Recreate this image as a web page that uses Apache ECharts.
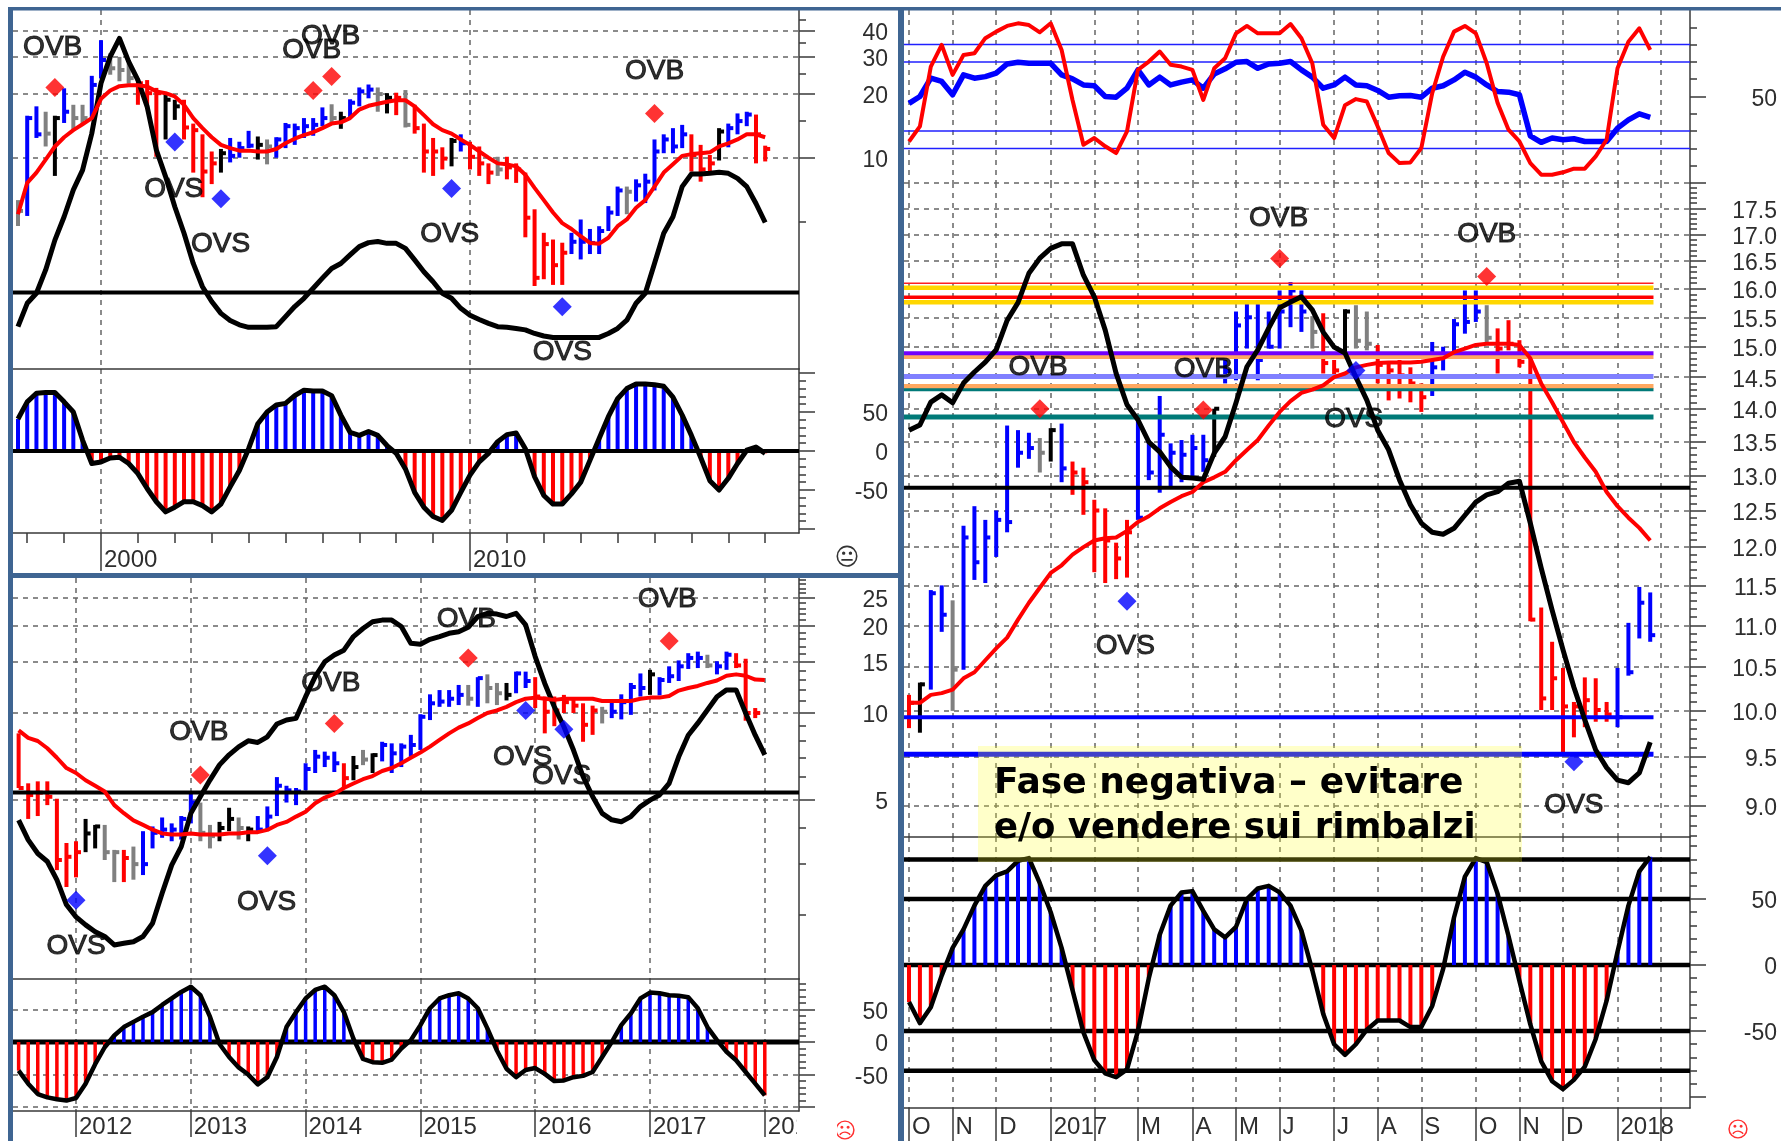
<!DOCTYPE html>
<html><head><meta charset="utf-8">
<style>html,body{margin:0;padding:0;background:#fff}#c{width:1781px;height:1141px}</style>
<script src="https://cdn.jsdelivr.net/npm/echarts@6/dist/echarts.min.js"></script>
</head><body><div id="c"></div>
<script>
// ---------- TOP LEFT: quarterly bars from 1997.75 ----------
const tlHigh=[6.3,15.8,17.5,16.5,15.8,21.3,17.8,17.8,24.4,36,31.2,30,28,23.7,23.3,21.4,19.9,18.8,18.8,14.5,12.9,10.7,11,12.4,11.9,13.4,12.6,12.2,12.5,14.6,14.5,15.4,15.4,17.3,17.9,16.5,18.9,21.5,22.2,21.5,20.2,20.3,20.9,17.8,14.5,12.4,11.2,12.4,12.9,11.9,11.3,9.4,10.1,10.1,9.4,8.5,5.7,4.41,4.1,3.96,4.41,5.1,4.6,4.74,5.9,7.3,7.3,7.9,8.4,12.2,12.9,13.8,14.3,12.9,11.5,10.3,13.8,14.5,16.2,16.5,16,11.4];
const tlLow=[4.75,5.3,12.4,11.3,8.2,14.6,13.4,14.4,15.4,23.7,24.7,23,22.4,17.8,17.5,10.1,12.2,15.1,12.2,8.5,6.5,7.5,8.5,9.5,10,11.1,9.8,9.3,10,11.1,11.5,12.4,12.7,14.1,14.6,13.7,15.4,17.5,19.1,16.5,16.2,15.9,13.9,13,8.5,8.2,8.8,9.1,10.7,8.8,8.2,7.5,8.2,7.9,7.6,4.2,2.47,2.66,2.5,2.5,3.5,3.3,3.5,3.5,4.5,5.3,5.4,6.2,6.1,7,10.5,10.5,11.1,8.6,7.7,8.6,9.7,11.2,12.9,14.1,9.4,9.6];
const tlClose=[5.6,15.4,12.9,13,15.4,16.5,15.4,15.4,22.1,29,26.5,26,23.8,22.5,20.2,20.2,18.8,17.5,13.9,13.5,8.6,9.4,10.5,10.2,11.1,11.4,11.5,11.3,12.2,14.1,13.8,14.1,14.3,15.4,15.4,15.4,18.2,20.6,21,20,19.2,19.2,14.3,13.8,10.7,10.7,9.9,12,11.7,10.1,9.4,8.5,8.8,9,8.8,5.2,2.7,3.9,3.1,3.55,4,4,3.95,4.5,5.5,7,6.9,7.4,7.7,10.7,12.2,11.3,12.9,10.3,8.8,9.4,13.3,13.8,14.9,16,12.9,11];
const tlColor="gbbgkbggbbgggrrrkkrrrrkbbbkgbbbbbbgkbbbgkrgrrrrkbrrrgrrrrrrrbbbbbbgbbbbbbrrrkbbbrr".split('');
const tlMA=[5.4,7.6,8.5,9.8,11.3,12.5,13.5,14.4,15.4,19,20.8,21.8,22,22,21.7,20.6,20.2,19.5,17.8,15.4,13.8,12.5,11.5,11.1,10.8,10.8,10.7,10.7,11,11.7,12.3,12.8,13.2,13.8,14.5,14.7,15.4,16.9,17.6,18,18.4,18.7,18.7,17.5,15.9,14.4,13.5,13,12.2,11.5,10.7,10,9.4,9.3,9.1,8.3,7.2,6.3,5.5,4.9,4.6,4.25,3.95,3.92,4.18,4.74,5.1,5.8,6.3,7.3,8.5,9.3,10.2,10.4,10.5,10.6,11.3,11.7,12.2,12.9,12.9,12.5];
const tlOsc=[11.8,18.3,21.1,27.6,35.9,42.4,49.9,55.4,65.6,79.6,87,92.1,85.6,80.5,73.1,61,53.6,45.2,37.8,29.4,22.9,18.8,15.5,13.5,12.3,11.6,11.6,11.6,11.8,14.6,17.4,19.7,22.5,25.3,28,29.4,31.8,34.1,35.2,35.5,35,35,33.6,30.4,27.1,24.3,21.1,19.7,16.9,15,13.8,12.7,11.8,11.6,11.3,10.9,9.9,9.2,8.8,8.8,8.8,8.8,8.8,8.8,9.9,11.3,13.6,18.3,21.1,29.4,37.8,42.4,50.8,54.3,54.3,54.5,54.8,54.5,53.1,50.8,46.1,40.8];
const tlOscLevel=21.3;
const tlHist=[41,63,74,75,75,63,50,14,-16,-14,-9,-8,-16,-29,-48,-65,-78,-72,-65,-65,-70,-78,-68,-46,-25,3,35,50,59,61,71,78,77,77,71,46,24,20,25,20,7,-3,-23,-53,-72,-84,-89,-76,-53,-31,-14,-3,12,21,23,3,-33,-57,-68,-68,-55,-40,-12,16,44,67,80,86,86,85,83,69,46,20,-8,-38,-50,-35,-16,1,5,-3];
const tlBuyX=[1998.75,2005.75,2006.25,2015];
const tlBuyY=[21.5,20.8,24.2,16.2];
const tlSellX=[2002,2003.25,2009.5,2012.5];
const tlSellY=[11.85,6.4,7.15,1.97];
const tlTextX=[1998.69,2005.71,2006.22,2015,2001.97,2003.24,2009.45,2012.5];
const tlTextY=[34.1,33.1,38.3,26.3,7.27,4,4.46,1.22];
const tlTextT=['OVB','OVB','OVB','OVB','OVS','OVS','OVS','OVS'];
const tlYearsMinor=[1998,1999,2001,2002,2003,2004,2005,2006,2007,2008,2009,2011,2012,2013,2014,2015,2016,2017,2018];
const tlYearsMajor=[2000,2010];
const tlPriceMajor=[40,30,20,10];
const tlPriceMinor=[45,35,25,15,5];
const tlPriceLabels=[40,30,20,10];

// ---------- BOTTOM LEFT: monthly bars from 2011.5 ----------
const blHigh=[8.5,5.71,5.8,5.8,5.05,3.55,3.6,4.3,4.1,4.1,3.36,3.36,3.45,3.9,4.05,4.35,4.15,4.4,5.25,4.9,4.1,4.2,4.7,4.35,4.05,4.4,4.75,6,5.6,5.5,6.7,7.45,7.35,7.35,6.7,7.1,7.45,7.25,7.95,7.85,7.85,8.4,9.9,11.6,12,12,12.5,12.5,13.3,13.6,12.7,12.7,13.9,13.9,13.3,11.4,11.4,11.55,11.25,10.8,10.6,10.5,10.9,11.6,12.7,13.7,14.1,13.3,14.5,15.2,16.1,16.3,15.9,15.1,16.3,16.1,15.4,10.4,11.6];
const blLow=[5.5,4.3,4.4,4.8,2.86,2.5,2.7,3.3,3.4,3.1,2.6,2.6,2.65,2.75,3.4,3.7,3.6,3.65,4.15,3.6,3.4,3.6,3.9,3.65,3.6,3.9,3.95,4.4,4.9,4.8,5.4,6.2,6.5,6.25,5.5,5.85,6.6,6.2,6.8,6.2,6.5,7.05,7.45,9.45,10.5,10.5,10.65,10.6,10.5,10.8,10.65,11.05,11.7,12.2,10.4,8.5,9,10,10,7.95,8.4,9.2,9.6,9.5,9.85,11.4,11.55,11.5,12.7,12.9,14.2,14.3,14.3,13.6,14.1,14.3,9.4,9.6,9.85];
const blClose=[5.5,5.2,5.3,5.13,3.1,3.18,3.3,3.83,4.05,3.3,3.3,3.15,3,3,3.85,3.95,3.95,4.3,4.9,3.85,3.75,4,4.3,4,3.95,3.95,4.38,5.6,5.4,5.35,6.4,7.06,7,6.7,5.95,6.5,6.9,7.15,7.75,7.25,7.65,7.75,9.7,10.8,10.95,11.2,11.55,11.2,13.2,12.2,11.7,11.55,13.7,12.9,11.4,10.1,10.2,10.9,10.6,9.1,10.2,10.1,10.1,10.9,12.3,12.2,13.6,13,13.4,14.5,15.5,15.5,14.6,14.5,15.9,14.6,10,10,10.8];
const blColor="rrrrrrrkkggrgbbbbbbggkkgkbbbbbbbbbrkgkbbbbbbbbbgbggkbbrrrrrrrgbbbbkbbbbbgbbrrr".split('');
const blMA=[8.7,8.2,8,7.55,7,6.45,6.2,5.85,5.6,5.35,4.8,4.5,4.25,4.1,3.95,3.83,3.8,3.8,3.83,3.8,3.8,3.8,3.83,3.83,3.87,3.87,3.94,4.1,4.2,4.38,4.55,4.87,5.1,5.25,5.5,5.7,5.9,6.05,6.3,6.45,6.7,7,7.3,7.65,8.07,8.5,8.9,9.2,9.6,10,10.2,10.5,10.9,11.2,11.3,11.2,11.1,11.2,11.2,11.2,11.2,11,11,11,11,11.2,11.3,11.3,11.45,11.95,12.2,12.4,12.7,12.95,13.45,13.6,13.45,13.05,13];
const blOsc=[39.6,34.7,31.3,29.3,24.7,18.5,15.5,13.5,11.8,10.6,8.5,8.9,9.3,10.6,13.9,21.4,28.4,33,41.3,45.5,49.6,53.4,55.9,57.9,59.4,59,60.4,63.6,64.6,65,70.4,75.4,79.1,80.8,82,85.4,87.4,89.1,89.5,89.5,87.9,83.7,83.5,84.7,85.4,86.2,86.6,87.7,90.4,91.2,91,90.4,91.2,88.3,80.4,73.7,67.9,62.9,57.1,50.5,45.5,41.3,39.7,39.2,40.5,43,44.6,45.9,48.8,55.4,60.8,63.8,67.1,70.4,72.1,72.1,66.3,60.8,55.9];
const blOscLevel=46.5;
const blHist=[-44,-64,-80,-85,-88,-90,-86,-64,-34,-8,10,23,31,39,46,57,67,77,85,72,39,-3,-23,-39,-50,-65,-54,-23,23,46,67,80,85,72,46,5,-26,-31,-32,-27,-10,3,26,52,67,72,75,67,52,21,-13,-41,-54,-43,-40,-49,-60,-59,-54,-52,-46,-23,0,26,44,67,76,75,72,71,69,52,23,3,-15,-28,-46,-64,-82];
const blBuyX=[2013.083,2014.25,2015.417,2017.167];
const blBuyY=[6.1,9.2,15.5,17.75];
const blSellX=[2012,2013.667,2015.917,2016.25];
const blSellY=[2.25,3.21,10.2,8.78];
const blTextX=[2012,2013.07,2013.66,2014.22,2015.4,2015.89,2016.23,2017.15];
const blTextY=[1.59,8.69,2.25,12.9,21.5,7.15,6.15,25.1];
const blTextT=['OVS','OVB','OVS','OVB','OVB','OVS','OVS','OVB'];
const blYears=[2012,2013,2014,2015,2016,2017,2018];
const blPriceMajor=[25,20,15,10,5];
const blPriceMinor=[29,28,27,26,24,23,22,21,19,18,17,16,14,13,12,11,9,8,7,6,4,3,2];
const blPriceLabels=[25,20,15,10,5];

// ---------- RIGHT: weekly bars, index 0 = first bar of October ----------
const rHigh=[10.18,10.32,11.44,11.5,11.31,12.29,12.56,12.37,12.5,13.74,13.67,13.63,13.55,13.7,13.77,13.2,13.11,12.65,12.53,12.06,12.37,13.82,13.52,14.2,13.47,13.52,13.6,13.6,14,14.78,15.6,15.75,15.73,15.6,15.97,16.12,15.97,15.52,15.57,14.78,15.64,15.71,15.6,15.03,14.75,14.78,14.66,14.4,15.08,15,15.47,15.97,15.97,15.71,15.31,15.45,15.11,14.9,11.22,10.8,10.49,10.1,10.38,10.37,10.1,10.49,11.03,11.48,11.41];
const rLow=[9.81,9.76,10.24,10.92,10,10.47,11.57,11.53,11.87,12.2,13.11,13.24,13.04,13.2,12.9,12.72,12.44,11.67,11.53,11.58,11.6,12.37,12.93,12.75,12.83,12.9,12.97,13.05,13.27,14.4,14.45,14.97,14.45,14.97,14.97,15.33,15.25,14.97,14.56,14.5,14.92,14.97,14.94,14.4,14.13,14.16,14.1,13.95,14.2,14.61,14.9,15.22,15.42,15.08,14.56,14.94,14.66,11.05,10.01,10.01,9.53,9.71,9.82,9.88,9.88,9.82,10.4,10.84,10.8];
const rClose=[10.09,10.3,11.4,11.13,10.47,12.13,11.8,12.13,12.37,12.34,13.33,13.4,13.33,13.67,13.1,13.04,12.9,12.5,12.09,11.85,12.2,12.4,13.04,13.6,13.33,13.3,13.4,13.22,14,14.6,15.36,15.5,14.78,15,15.6,15.97,15.6,15.25,14.73,14.61,15.6,15.1,15.05,14.7,14.61,14.53,14.4,14.18,14.66,14.86,15.38,15.42,15.6,15.15,14.97,15.05,14.75,11.07,10.14,10.37,10.05,10.05,10.12,10.01,9.96,9.93,10.44,11.28,10.88];
const rColor="rkbbgbbbbbbbgkbrrrrrrbbbbbbbkbbbbbbbbgrrkggrrrrrbbbbbgrrrrrrrrrrrbbbb".slice(0,69).split('');
const rMA=[10.09,10.09,10.18,10.2,10.24,10.37,10.44,10.58,10.72,10.85,11.07,11.28,11.47,11.66,11.76,11.9,12,12.09,12.12,12.13,12.22,12.34,12.42,12.53,12.62,12.7,12.76,12.9,12.97,13.05,13.22,13.37,13.52,13.74,13.95,14.12,14.25,14.3,14.37,14.5,14.56,14.66,14.7,14.73,14.74,14.74,14.74,14.75,14.78,14.81,14.91,14.97,15.03,15.05,15.05,15.05,15.03,14.81,14.4,14.1,13.79,13.49,13.26,13.05,12.76,12.56,12.4,12.26,12.09];
const rOsc=[62.2,63,66.5,67.6,66.4,69.4,71.1,72.6,74.5,79,81.7,86.2,88.5,90,90.7,90.7,85.9,82.6,77.5,70.9,66.1,63.8,60.4,58.9,56.6,55,54.9,54.7,58.7,61.2,66.4,71.9,74.5,77.8,80.9,81.8,82.6,80.6,77.2,74.9,74,70.3,66.8,62.2,59.2,54.6,50.8,48,46.6,46.3,47.2,49.2,51.2,52.3,52.8,54.1,54.4,48,41.1,34.7,28.6,22.9,17.9,13.3,10.6,8.7,8.3,9.8,14.5];
const rOscLevel=53.4;
const rHist=[-28,-44,-32,-8,13,27,45,60,68,71,79,81,62,40,13,-19,-51,-72,-82,-85,-79,-50,-10,23,45,55,56,41,27,21,29,50,58,60,55,45,26,-4,-37,-60,-68,-60,-49,-42,-42,-42,-47,-47,-31,-3,36,67,81,78,54,22,-12,-45,-73,-88,-94,-87,-77,-56,-27,10,45,71,82];
const rsiBlue=[46,50,60.6,58.7,51,62.5,60.6,61.5,63.5,68.8,69.8,69.2,69.2,69.2,62.5,60.2,56.7,56.2,50,49.6,54.8,65.4,56.7,61.2,56.7,58.3,59.6,54.8,63,66,69.8,70.2,66.3,68.8,69.2,70.2,65.4,61.2,54.8,56.7,61.2,56.7,56.2,53.5,49.6,50.4,50.6,49.6,54.8,56.2,59.6,64,61.2,56.7,52.9,52.5,51,27.3,23.5,26,25,25.6,24,24,24,31.7,36.5,40,38];
const rsiRed=[24,32.7,67.3,79.8,62.5,74,75,83.7,87.5,90.8,92.3,91.3,87.1,92.3,76.9,48,22.1,26,21.2,17.3,29.8,65.4,70.2,76,68.3,67.3,65.4,48,66.3,72.1,86.5,90.8,86.5,86.5,86.5,91.9,83.7,69.2,33.7,26,45,48.5,47.1,32.7,17.3,11.5,11.9,20.2,51.9,73,87.5,90.8,86.5,69.2,46.2,30.8,24,11.5,4.8,4.8,6.2,8.3,8.3,15.4,25,66.3,81.7,89.4,76.9];
const rsiLevels=[80,70,30,20];
const rBuyX=[12,27,34,53];
const rBuyY=[14,13.98,16.55,16.22];
const rSellX=[20,41,61];
const rSellY=[11.3,14.61,9.45];
const rTextX=[11.85,27,33.9,53,40.8,19.85,61];
const rTextY=[14.69,14.66,17.35,17.03,13.87,10.77,9.02];
const rTextT=['OVB','OVB','OVB','OVB','OVS','OVS','OVS'];
const rMonthX=[0,4,8,13,17,21,26,30,34,39,43,47,52,56,60,65,69];
const rMonthT=['O','N','D','2017','','M','A','M','J','J','A','S','O','N','D','2018',''];
const rPriceLabels=[17.5,17,16.5,16,15.5,15,14.5,14,13.5,13,12.5,12,11.5,11,10.5,10,9.5,9];
const rPriceMajor=[18,17.5,17,16.5,16,15.5,15,14.5,14,13.5,13,12.5,12,11.5,11,10.5,10,9.5,9];
const rPriceMinor=[17.9,17.8,17.7,17.6,17.4,17.3,17.2,17.1,16.9,16.8,16.7,16.6,16.4,16.3,16.2,16.1,15.9,15.8,15.7,15.6,15.4,15.3,15.2,15.1,14.9,14.8,14.7,14.6,14.4,14.3,14.2,14.1,13.9,13.8,13.7,13.6,13.4,13.3,13.2,13.1,12.9,12.8,12.7,12.6,12.4,12.3,12.2,12.1,11.9,11.8,11.7,11.6,11.4,11.3,11.2,11.1,10.9,10.8,10.7,10.6,10.4,10.3,10.2,10.1,9.9,9.8,9.7,9.6,9.4,9.3,9.2,9.1,8.9,8.8,8.7];
// horizontal support/resistance levels: value, colour, width
const rLevelVal=[16.02,16.1,15.76,15.85,14.83,14.89,14.51,14.35,14.3,13.87,9.93,9.53];
const rLevelCol=['#ffd700','#ff2020','#ffd700','#ff0000','#ffa860','#7000ff','#8080ff','#ffa860','#007a78','#007a78','#0000ff','#0000ff'];
const rLevelW=[4.5,1.5,4.5,3.5,4,4,5,5,3,5,4,5];

const histTicksMinor=[100,90,80,70,60,40,30,20,10,-10,-20,-30,-40,-60,-70,-80,-90,-100];
const histTicksMajor=[100,50,0,-50,-100];
const histLabels=[50,0,-50];

// ---------- builders ----------
const lg=Math.log10;
const COL={b:'#0000ff',r:'#ff0000',k:'#000000',g:'#808080'};
const DARK='#3a3a3a', DASH='#666', TXT='#2e2e2e';
const opt={animation:false,backgroundColor:'#ffffff',grid:[],xAxis:[],yAxis:[],series:[],graphic:{elements:[]}};
function addGrid(l,t,w,h){opt.grid.push({left:l,top:t,width:w,height:h,show:false});return opt.grid.length-1;}
function addX(g,min,max,o){
  opt.xAxis.push({type:'value',gridIndex:g,min,max,position:'bottom',
    axisLine:{show:!!o.line,onZero:false,lineStyle:{color:DARK,width:1.5}},
    axisTick:{show:!!o.tickLen,length:o.tickLen||1,customValues:o.ticks,lineStyle:{color:DARK,width:1.5}},
    minorTick:{show:false},
    axisLabel:o.labels?{show:true,customValues:o.labels,formatter:o.fmt,margin:o.margin,align:'left',padding:[0,0,0,3],
      color:TXT,fontFamily:'Liberation Sans',fontSize:24,hideOverlap:false,showMinLabel:true,showMaxLabel:true}:{show:false},
    splitLine:{show:!!o.split,lineStyle:{color:DASH,width:1.5,type:[5,5]}}});
  return opt.xAxis.length-1;
}
function addY(g,min,max,o){
  opt.yAxis.push({type:'value',gridIndex:g,min,max,position:'right',show:o.show!==false,
    axisLine:{show:!!o.line,onZero:false,lineStyle:{color:DARK,width:1.5}},
    axisTick:{show:!!o.ticks,length:o.tickLen||1,customValues:o.ticks||[0],lineStyle:{color:DARK,width:1.5}},
    minorTick:{show:false},
    axisLabel:o.labels?{show:true,customValues:o.labels,formatter:o.fmt,margin:o.margin,align:'right',verticalAlign:'top',lineHeight:6,
      color:TXT,fontFamily:'Liberation Sans',fontSize:23,hideOverlap:false,showMinLabel:true,showMaxLabel:true}:{show:false},
    splitLine:{show:!!o.split,lineStyle:{color:o.splitColor||DASH,width:1.5,type:[5,5]}}});
  return opt.yAxis.length-1;
}
function bars(xi,yi,xs,hi,lo,cl,cols,lw,tick){
  opt.series.push({type:'custom',coordinateSystem:'cartesian2d',xAxisIndex:xi,yAxisIndex:yi,z:3,clip:true,
    encode:{x:0,y:[1,2,3]},
    data:xs.map((x,i)=>[x,lg(hi[i]),lg(lo[i]),lg(cl[i])]),
    renderItem(p,api){
      const x=api.value(0),a=api.coord([x,api.value(1)]),b=api.coord([x,api.value(2)]),c=api.coord([x,api.value(3)]);
      const st={stroke:COL[cols[p.dataIndex]],lineWidth:lw,fill:null};
      return {type:'group',children:[
        {type:'line',shape:{x1:a[0],y1:a[1],x2:b[0],y2:b[1]},style:st},
        {type:'line',shape:{x1:c[0],y1:c[1],x2:c[0]+tick,y2:c[1]},style:st}]};
    }});
}
function line(xi,yi,data,color,width,z){
  opt.series.push({type:'line',xAxisIndex:xi,yAxisIndex:yi,data,symbol:'none',z,silent:true,clip:true,
    lineStyle:{color,width,join:'round',cap:'butt'},itemStyle:{color}});
}
function hist(xi,yi,xs,vals,w,z){
  opt.series.push({type:'bar',xAxisIndex:xi,yAxisIndex:yi,barWidth:w,z,silent:true,barMinHeight:0,
    data:xs.map((x,i)=>({value:[x,vals[i]],itemStyle:{color:vals[i]>=0?'#0000ff':'#ff0000'}}))});
}
function marks(xi,yi,xs,ys,color){
  opt.series.push({type:'scatter',xAxisIndex:xi,yAxisIndex:yi,symbol:'diamond',symbolSize:19,z:8,silent:true,
    itemStyle:{color},data:xs.map((x,i)=>[x,lg(ys[i])])});
}
function texts(xi,yi,xs,ys,ts){
  opt.series.push({type:'scatter',xAxisIndex:xi,yAxisIndex:yi,symbolSize:1,z:9,silent:true,clip:false,
    itemStyle:{color:'rgba(0,0,0,0)'},
    label:{show:true,position:'inside',align:'center',verticalAlign:'middle',offset:[0,2],
      formatter:p=>ts[p.dataIndex],color:'#000',fontFamily:'Liberation Sans',fontSize:28,
      textBorderColor:'#000',textBorderWidth:1},
    data:xs.map((x,i)=>[x,lg(ys[i])])});
}
const xy=(xs,ys)=>xs.map((x,i)=>[x,ys[i]]);
const xyLog=(xs,ys)=>xs.map((x,i)=>[x,lg(ys[i])]);

// ---------- TOP LEFT ----------
(function(){
  const x0=1997.615,x1=2018.916;
  const xs=tlHigh.map((_,i)=>1997.75+i*0.25);
  const gP=addGrid(13,10,786,359), gH=addGrid(13,369,786,164);
  const xP=addX(gP,x0,x1,{ticks:tlYearsMajor,split:true,line:true});
  const yMaj=addY(gP,0,lg(50),{ticks:tlPriceMajor.map(lg),tickLen:16,line:true,split:true,labels:tlPriceLabels.map(lg),
    fmt:v=>String(Math.round(Math.pow(10,v))),margin:89});
  addY(gP,0,lg(50),{ticks:tlPriceMinor.map(lg),tickLen:7});
  const yOsc=addY(gP,0,100,{show:false});
  const xH=addX(gH,x0,x1,{ticks:tlYearsMajor,tickLen:38,split:true,line:true,labels:tlYearsMajor,fmt:v=>String(Math.round(v)),margin:15});
  const xH2=addX(gH,x0,x1,{ticks:tlYearsMinor,tickLen:10});
  const yH=addY(gH,-105.1,105.1,{ticks:histTicksMajor,tickLen:16,line:true,labels:histLabels,fmt:v=>String(Math.round(v)),margin:89});
  addY(gH,-105.1,105.1,{ticks:histTicksMinor,tickLen:7});
  bars(xP,yMaj,xs,tlHigh,tlLow,tlClose,tlColor,4,5);
  line(xP,yOsc,[[x0,tlOscLevel],[x1,tlOscLevel]],'#000',4,4);
  line(xP,yOsc,xy(xs,tlOsc),'#000',5,5);
  line(xP,yMaj,xyLog(xs,tlMA),'#ff0000',4,6);
  marks(xP,yMaj,tlBuyX,tlBuyY,'#ff0000');
  marks(xP,yMaj,tlSellX,tlSellY,'#0000ff');
  texts(xP,yMaj,tlTextX,tlTextY,tlTextT);
  hist(xH,yH,xs,tlHist,4,3);
  line(xH,yH,[[x0,0],[x1,0]],'#000',4,4);
  line(xH,yH,xy(xs,tlHist),'#000',5,5);
})();

// ---------- BOTTOM LEFT ----------
(function(){
  const x0=2011.451,x1=2018.298;
  const xs=blHigh.map((_,i)=>2011.5+i/12);
  const gP=addGrid(13,578,786,401), gH=addGrid(13,979,786,132);
  const xP=addX(gP,x0,x1,{ticks:blYears,split:true,line:true});
  const a=lg(1.2016),b=lg(29.3);
  const yMaj=addY(gP,a,b,{ticks:blPriceMajor.map(lg),tickLen:16,line:true,split:true,labels:blPriceLabels.map(lg),
    fmt:v=>String(Math.round(Math.pow(10,v))),margin:89});
  addY(gP,a,b,{ticks:blPriceMinor.map(lg),tickLen:7});
  const yOsc=addY(gP,0,100,{show:false});
  const xH=addX(gH,x0,x1,{ticks:blYears,tickLen:26,split:true,line:true,labels:blYears,fmt:v=>String(Math.round(v)),margin:4});
  const yH=addY(gH,-106,96.9,{ticks:histTicksMajor.filter(v=>v<100),tickLen:16,line:true,split:true,labels:histLabels,
    fmt:v=>String(Math.round(v)),margin:89});
  addY(gH,-106,96.9,{ticks:histTicksMinor.filter(v=>v<100),tickLen:7});
  bars(xP,yMaj,xs,blHigh,blLow,blClose,blColor,4,5);
  line(xP,yOsc,[[x0,blOscLevel],[x1,blOscLevel]],'#000',4,4);
  line(xP,yOsc,xy(xs,blOsc),'#000',5,5);
  line(xP,yMaj,xyLog(xs,blMA),'#ff0000',4,6);
  marks(xP,yMaj,blBuyX,blBuyY,'#ff0000');
  marks(xP,yMaj,blSellX,blSellY,'#0000ff');
  texts(xP,yMaj,blTextX,blTextY,blTextT);
  line(xH,yH,[[x0,0],[x1,0]],'#000',5,2);
  hist(xH,yH,xs,blHist,3.5,3);
  line(xH,yH,xy(xs,blHist),'#000',4.5,5);
})();

// ---------- RIGHT ----------
(function(){
  const x0=-0.46,x1=71.65,xEnd=68.3;
  const xs=rHigh.map((_,i)=>i);
  const gR=addGrid(904,10,786,173), gP=addGrid(904,183,786,654), gH=addGrid(904,837,786,271);
  const xR=addX(gR,x0,x1,{ticks:rMonthX,split:true});
  const yR=addY(gR,0,100,{ticks:[50,0],tickLen:16,line:true,labels:[50],fmt:v=>String(Math.round(v)),margin:87});
  addY(gR,0,100,{ticks:[90,80,70,60,40,30,20,10],tickLen:7});
  const xP=addX(gP,x0,x1,{ticks:rMonthX,split:true,line:true});
  const a=lg(8.69),b=lg(18);
  const yMaj=addY(gP,a,b,{ticks:rPriceMajor.map(lg),tickLen:16,line:true,split:true,labels:rPriceLabels.map(lg),
    fmt:v=>Math.pow(10,v).toFixed(1),margin:87});
  addY(gP,a,b,{ticks:rPriceMinor.map(lg),tickLen:7});
  const yOsc=addY(gP,0,100,{show:false});
  const xH=addX(gH,x0,x1,{ticks:rMonthX,tickLen:33,split:true,line:true,labels:rMonthX,
    fmt:v=>rMonthT[rMonthX.indexOf(Math.round(v))],margin:7});
  const yH=addY(gH,-108.3,97,{ticks:[50,0,-50,-100],tickLen:16,line:true,labels:histLabels,fmt:v=>String(Math.round(v)),margin:87});
  addY(gH,-108.3,97,{ticks:histTicksMinor.filter(v=>v<100),tickLen:7});
  rsiLevels.forEach(v=>line(xR,yR,[[x0,v],[x1,v]],'#2020ff',1.5,2));
  line(xR,yR,xy(xs,rsiBlue),'#0000ff',5.5,4);
  line(xR,yR,xy(xs,rsiRed),'#ff0000',4,5);
  bars(xP,yMaj,xs,rHigh,rLow,rClose,rColor,4,5);
  rLevelVal.forEach((v,i)=>line(xP,yMaj,[[x0,lg(v)],[xEnd,lg(v)]],rLevelCol[i],rLevelW[i],4));
  line(xP,yOsc,[[x0,rOscLevel],[x1,rOscLevel]],'#000',4,4);
  line(xP,yMaj,xyLog(xs,rMA),'#ff0000',4,5);
  line(xP,yOsc,xy(xs,rOsc),'#000',5,6);
  marks(xP,yMaj,rBuyX,rBuyY,'#ff0000');
  marks(xP,yMaj,rSellX,rSellY,'#0000ff');
  texts(xP,yMaj,rTextX,rTextY,rTextT);
  [80,50,0,-50,-80].forEach(v=>line(xH,yH,[[x0,v],[x1,v]],'#000',4.5,2));
  hist(xH,yH,xs,rHist,4,3);
  line(xH,yH,xy(xs,rHist),'#000',4.5,5);
})();

// ---------- frame, note and face glyphs ----------
const FRAME='#3f6592';
function rect(x,y,w,h,fill,z){return {type:'rect',z:z||100,shape:{x,y,width:w,height:h},style:{fill}};}
function txt(x,y,t,font,fill,z,align){return {type:'text',z:z||101,x,y,style:{text:t,font,fill,textAlign:align||'left',textVerticalAlign:'middle'}};}
opt.graphic.elements=[
  rect(797,1113,40,28,'#ffffff',90),
  rect(8,7,1773,3.5,FRAME),
  rect(8,7,5,1134,FRAME),
  rect(898,7,6,1134,FRAME),
  rect(8,573,890,5,FRAME),
  rect(978,746,544,116,'rgba(255,255,40,0.25)',50),
  txt(994,784,'Fase negativa – evitare','bold 36px "DejaVu Sans"','#000',60),
  txt(994,829,'e/o vendere sui rimbalzi','bold 35.5px "DejaVu Sans"','#000',60),
  txt(847,559,'\u{1F610}','24px "DejaVu Sans"','#333',60,'center'),
  txt(845,1132,'\u2639','22px "DejaVu Sans"','#ff3030',60,'center'),
  txt(1738,1131,'\u2639','22px "DejaVu Sans"','#ff3030',60,'center')
];
const chart=echarts.init(document.getElementById('c'),null,{renderer:'canvas',width:1781,height:1141});
chart.setOption(opt);
</script></body></html>
